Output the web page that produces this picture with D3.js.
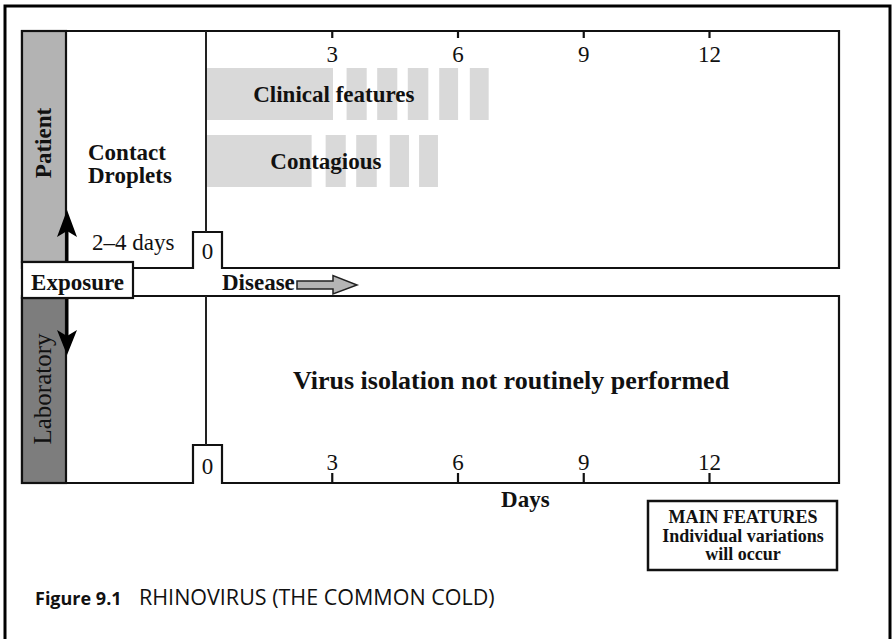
<!DOCTYPE html>
<html lang="en">
  <head>
    <meta charset="UTF-8" />
    <title>Rhinovirus</title>
    <script src="https://d3js.org/d3.v7.min.js"></script>
    <style>
      body { margin: 0; background: #fff; }
      svg text { font-family: "Liberation Serif", "Times New Roman", serif; fill: #111; }
      .bold { font-weight: bold; }
      .caption { font-family: "Open Sans", sans-serif; fill: #111; }
    </style>
  </head>
  <body>
    <div id="chart"></div>
    <script>
      // data
      const rows = ["Clinical features", "Contagious"];
      const clinicalSegments = [[0, 3.03], [3.33, 3.81], [4.06, 4.54], [4.79, 5.28], [5.54, 5.99], [6.27, 6.72]];
      const contagiousSegments = [[0, 2.52], [2.83, 3.31], [3.56, 4.05], [4.36, 4.82], [5.06, 5.51]];
      const rowLabelDay = [3.05, 2.86];
      const dayTicks = [3, 6, 9, 12];

      const width = 894;
      const height = 639;

      const svg = d3.select("#chart").append("svg")
        .attr("width", width)
        .attr("height", height);

      const x = d3.scaleLinear().domain([0, 12]).range([206, 709]);
      const y = d3.scaleBand().domain(rows).range([68, 187]).paddingInner(15 / 67);

      // outer frame
      svg.append("path")
        .attr("d", "M5,639 V6 H890 V639")
        .attr("fill", "none")
        .attr("stroke", "#000")
        .attr("stroke-width", 3);

      // patient panel and laboratory panel
      const panelPath = (top, bottom, notchTop) =>
        `M22,${top} H839 V${bottom} H222 V${notchTop} H193 V${bottom} H22 Z`;

      svg.append("path")
        .attr("d", panelPath(31, 268, 232))
        .attr("fill", "#fff").attr("stroke", "#111").attr("stroke-width", 2.2);
      svg.append("path")
        .attr("d", panelPath(296, 483, 445))
        .attr("fill", "#fff").attr("stroke", "#111").attr("stroke-width", 2.2);

      // side columns
      svg.append("rect").attr("x", 22).attr("y", 31).attr("width", 44).attr("height", 231)
        .attr("fill", "#b3b3b3").attr("stroke", "#111").attr("stroke-width", 2.2);
      svg.append("rect").attr("x", 22).attr("y", 298).attr("width", 44).attr("height", 185)
        .attr("fill", "#7d7d7d").attr("stroke", "#111").attr("stroke-width", 2.2);

      // day 0 vertical lines
      svg.append("line").attr("x1", x(0)).attr("x2", x(0)).attr("y1", 31).attr("y2", 232)
        .attr("stroke", "#222").attr("stroke-width", 2);
      svg.append("line").attr("x1", x(0)).attr("x2", x(0)).attr("y1", 296).attr("y2", 445)
        .attr("stroke", "#222").attr("stroke-width", 2);

      // bars
      const allSegs = [clinicalSegments, contagiousSegments];
      rows.forEach((r, i) => {
        svg.append("g").selectAll("rect")
          .data(allSegs[i])
          .enter()
          .append("rect")
          .attr("x", (d) => x(d[0]) + 1)
          .attr("y", y(r))
          .attr("width", (d) => x(d[1]) - x(d[0]) - (d[0] === 0 ? 1 : 0))
          .attr("height", y.bandwidth())
          .attr("fill", "#d9d9d9");

        svg.append("text")
          .attr("class", "bold")
          .attr("x", x(rowLabelDay[i]))
          .attr("y", y(r) + y.bandwidth() / 2 + 7.5)
          .attr("text-anchor", "middle")
          .attr("font-size", 23)
          .text(r);
      });

      // axes
      const topAxis = d3.axisBottom(x).tickValues(dayTicks).tickSize(7).tickPadding(8).tickFormat(d3.format("d"));
      const gTop = svg.append("g").attr("transform", "translate(0,31)").call(topAxis);
      const bottomAxis = d3.axisTop(x).tickValues(dayTicks).tickSize(10).tickPadding(3).tickFormat(d3.format("d"));
      const gBottom = svg.append("g").attr("transform", "translate(0,483)").call(bottomAxis);
      [gTop, gBottom].forEach((g) => {
        g.select(".domain").remove();
        g.selectAll(".tick line").attr("stroke", "#111").attr("stroke-width", 2.2);
        g.selectAll(".tick text")
          .attr("font-size", 23)
          .attr("font-family", "Liberation Serif, serif")
          .attr("fill", "#111");
      });

      // day 0 labels in notches
      svg.append("text").attr("x", x(0) + 1.5).attr("y", 259).attr("text-anchor", "middle")
        .attr("font-size", 23).text("0");
      svg.append("text").attr("x", x(0) + 1.5).attr("y", 474).attr("text-anchor", "middle")
        .attr("font-size", 23).text("0");

      // left texts
      svg.append("text").attr("class", "bold").attr("x", 88).attr("y", 160).attr("font-size", 23).text("Contact");
      svg.append("text").attr("class", "bold").attr("x", 88).attr("y", 183).attr("font-size", 23).text("Droplets");
      svg.append("text").attr("x", 92).attr("y", 250).attr("font-size", 23).text("2\u20134 days");

      svg.append("text").attr("class", "bold").attr("font-size", 23)
        .attr("text-anchor", "middle")
        .attr("transform", "translate(51,143) rotate(-90)")
        .text("Patient");
      svg.append("text").attr("font-size", 25)
        .attr("text-anchor", "middle")
        .attr("fill", "#111")
        .attr("transform", "translate(51,389) rotate(-90)")
        .text("Laboratory");

      // arrows from exposure
      svg.append("line").attr("x1", 67).attr("x2", 67).attr("y1", 262).attr("y2", 225)
        .attr("stroke", "#000").attr("stroke-width", 3);
      svg.append("path").attr("d", "M67,210 L77,237 L67,231 L57,237 Z").attr("fill", "#000");
      svg.append("line").attr("x1", 67).attr("x2", 67).attr("y1", 298).attr("y2", 340)
        .attr("stroke", "#000").attr("stroke-width", 3);
      svg.append("path").attr("d", "M67,355 L77,330 L67,336 L57,330 Z").attr("fill", "#000");

      // exposure box
      svg.append("rect").attr("x", 22).attr("y", 262).attr("width", 111).attr("height", 36)
        .attr("fill", "#fff").attr("stroke", "#111").attr("stroke-width", 2.2);
      svg.append("text").attr("class", "bold").attr("x", 77.5).attr("y", 290)
        .attr("text-anchor", "middle").attr("font-size", 23).text("Exposure");

      // disease arrow
      svg.append("text").attr("class", "bold").attr("x", 222).attr("y", 290)
        .attr("font-size", 23).text("Disease");
      svg.append("path")
        .attr("d", "M297,281 H333 V275.5 L357,285 L333,294 V289 H297 Z")
        .attr("fill", "#b5b5b5").attr("stroke", "#222").attr("stroke-width", 1.5);

      // laboratory note
      svg.append("text").attr("class", "bold").attr("x", 511).attr("y", 389)
        .attr("text-anchor", "middle").attr("font-size", 26)
        .text("Virus isolation not routinely performed");

      // days label
      svg.append("text").attr("class", "bold").attr("x", x(7.62)).attr("y", 507)
        .attr("text-anchor", "middle").attr("font-size", 23).text("Days");

      // main features box
      svg.append("rect").attr("x", 648).attr("y", 501).attr("width", 189).attr("height", 69)
        .attr("fill", "#fff").attr("stroke", "#111").attr("stroke-width", 2.5);
      ["MAIN FEATURES", "Individual variations", "will occur"].forEach((t, i) => {
        svg.append("text").attr("class", "bold").attr("x", 743).attr("y", 523 + i * 18.5)
          .attr("text-anchor", "middle").attr("font-size", 18).text(t);
      });

      // caption
      const cap = svg.append("text").attr("class", "caption").attr("x", 35).attr("y", 605);
      cap.append("tspan").attr("font-weight", "bold").attr("font-size", 18).text("Figure 9.1");
      cap.append("tspan").attr("x", 139).attr("font-size", 21.5).text("RHINOVIRUS (THE COMMON COLD)");
    </script>
  </body>
</html>
